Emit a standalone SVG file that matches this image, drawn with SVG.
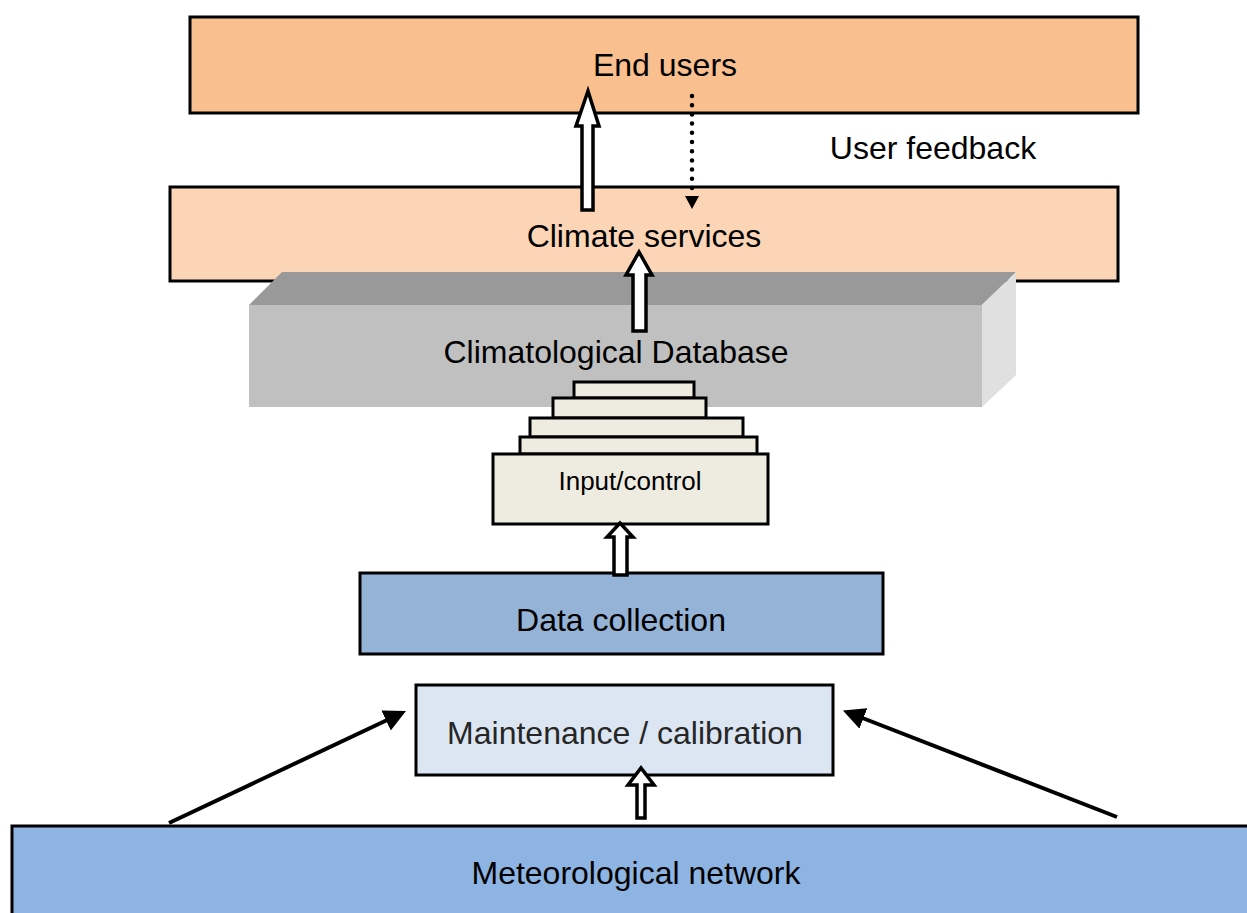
<svg xmlns="http://www.w3.org/2000/svg" width="1247" height="913" viewBox="0 0 1247 913">
  <style>
    .box { stroke: #000; stroke-width: 3; }
    .lbl { font-family: "Liberation Sans", Arial, sans-serif; font-size: 32px; fill: #000; text-anchor: middle; dominant-baseline: central; }
    .small { font-size: 26px; }
    .hollow { fill: #fff; stroke: #000; stroke-width: 3.5; stroke-linejoin: miter; }
    .line { stroke: #000; stroke-width: 4; fill: none; }
    .step { fill: #EEECE1; stroke: #000; stroke-width: 3; }
  </style>
  <defs>
    <marker id="head" viewBox="0 0 10 10" refX="8" refY="5" markerWidth="5.5" markerHeight="5.5" markerUnits="strokeWidth" orient="auto">
      <path d="M0,0 L10,5 L0,10 Z" fill="#000"/>
    </marker>
  </defs>

  <rect width="1247" height="913" fill="#fff"/>

  <g id="end-users">
    <rect class="box" x="190" y="17" width="948" height="96" fill="#F9BF8F"/>
    <text class="lbl" x="665" y="65">End users</text>
  </g>

  <g id="user-feedback">
    <text class="lbl" x="933" y="148">User feedback</text>
  </g>

  <g id="climate-services">
    <rect class="box" x="170" y="187" width="948" height="94" fill="#FBD5B5"/>
    <text class="lbl" x="644" y="236">Climate services</text>
  </g>

  <g id="climatological-database">
    <polygon points="249,305 282,272 1016,272 982,305" fill="#999999"/>
    <polygon points="982,305 1016,272 1016,375 982,407" fill="#E0E0E0"/>
    <rect x="249" y="305" width="733" height="102" fill="#C0C0C0"/>
    <text class="lbl" x="616" y="352">Climatological Database</text>
  </g>

  <g id="input-control">
    <rect class="step" x="574" y="382" width="120" height="16"/>
    <rect class="step" x="553" y="398" width="153" height="20"/>
    <rect class="step" x="530" y="418" width="213" height="19"/>
    <rect class="step" x="520" y="437" width="237" height="17"/>
    <rect class="step" x="493" y="454" width="275" height="70"/>
    <text class="lbl small" x="630" y="481">Input/control</text>
  </g>

  <g id="data-collection">
    <rect class="box" x="360" y="573" width="523" height="81" fill="#95B3D7"/>
    <text class="lbl" x="621" y="620">Data collection</text>
  </g>

  <g id="maintenance-calibration">
    <rect class="box" x="416" y="685" width="417" height="90" fill="#DCE6F2"/>
    <text class="lbl" x="625" y="733" style="fill:#262626">Maintenance / calibration</text>
  </g>

  <g id="meteorological-network">
    <rect class="box" x="12" y="826" width="1250" height="100" fill="#8EB4E3"/>
    <text class="lbl" x="636" y="873">Meteorological network</text>
  </g>

  <g id="connectors">
    <!-- hollow block arrows -->
    <polygon class="hollow" points="582,210 582,126 576,126 588,91 599,126 593,126 593,210"/>
    <polygon class="hollow" points="633,331 633,275 626,275 639,252 652,275 646,275 646,331"/>
    <polygon class="hollow" points="614,575 614,537 607,537 620,523 633,537 627,537 627,575"/>
    <polygon class="hollow" points="637,818 637,785 628,785 641,768 654,785 645,785 645,818"/>
    <!-- dotted feedback arrow -->
    <line x1="692" y1="96" x2="692" y2="196" stroke="#000" stroke-width="4.5" stroke-linecap="round" stroke-dasharray="0 9.2"/>
    <polygon points="685,196 699,196 692,209" fill="#000"/>
    <!-- side arrows into maintenance -->
    <line class="line" x1="169" y1="823" x2="402" y2="713" marker-end="url(#head)"/>
    <line class="line" x1="1117" y1="817" x2="847" y2="712" marker-end="url(#head)"/>
  </g>
</svg>
